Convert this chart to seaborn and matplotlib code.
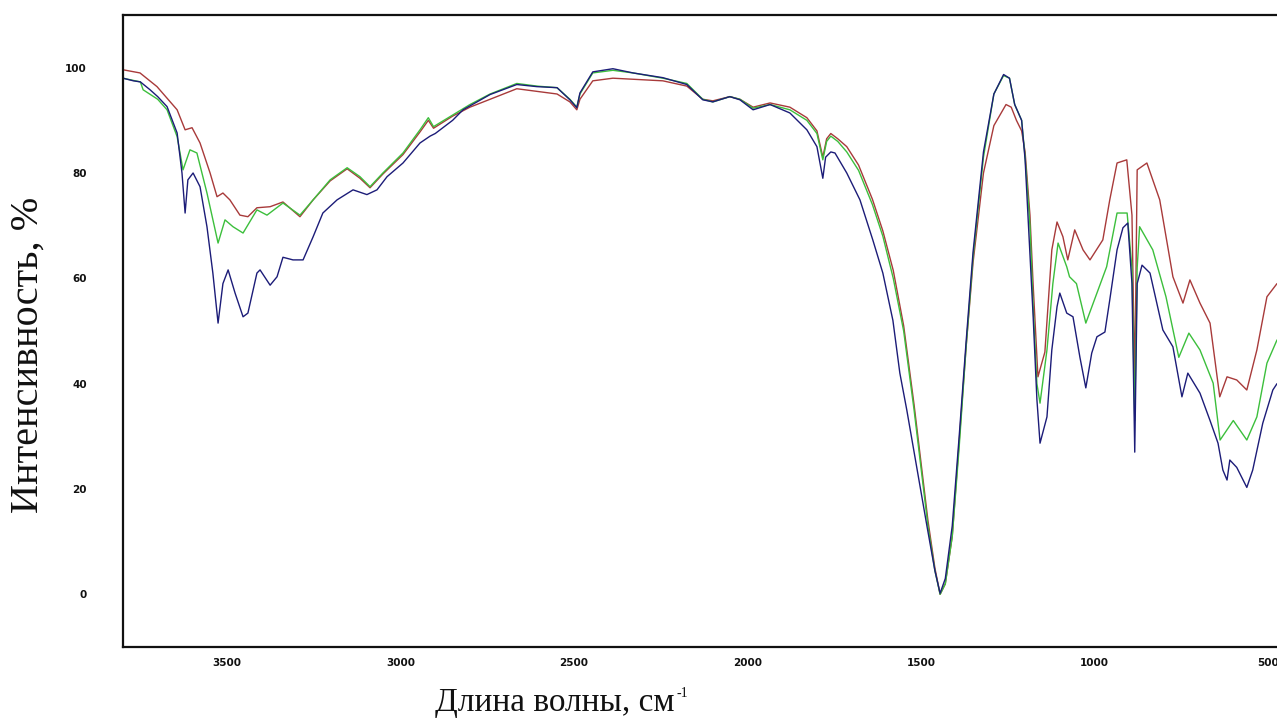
import matplotlib
matplotlib.use("Agg")
import matplotlib.pyplot as plt
from matplotlib.ticker import MultipleLocator, FixedLocator
import seaborn as sns

# ---------------- data ----------------
wn_blue = [3800, 3770, 3750, 3722, 3700, 3673, 3644, 3630, 3621, 3613, 3598, 3578, 3558, 3541,
           3526, 3512, 3497, 3477, 3454, 3440, 3414, 3405, 3376, 3356, 3339, 3310, 3281, 3252,
           3224, 3183, 3137, 3097, 3068, 3039, 2993, 2944, 2915, 2900, 2850, 2820, 2742, 2665,
           2607, 2549, 2512, 2492, 2483, 2446, 2388, 2330, 2244, 2175, 2129, 2100, 2051, 2022,
           1984, 1935, 1878, 1829, 1800, 1783, 1775, 1760, 1748, 1714, 1676, 1639, 1610, 1581,
           1561, 1541, 1512, 1483, 1460, 1445, 1430, 1410, 1390, 1370, 1350, 1320, 1290, 1262,
           1245, 1230, 1210, 1200, 1191, 1177, 1166, 1157, 1137, 1123, 1108, 1100, 1080, 1062,
           1042, 1025, 1008, 993, 970, 956, 935, 918, 904, 892, 884, 877, 863, 840, 803, 774,
           748, 731, 696, 667, 644, 630, 618, 610, 590, 561, 544, 515, 486, 474]
blue = [98.0, 97.5, 97.3, 95.8, 94.5, 92.6, 87.6, 80.0, 72.4, 78.7, 80.0, 77.4, 69.8, 61.0,
        51.5, 59.0, 61.6, 57.2, 52.7, 53.4, 61.0, 61.6, 58.7, 60.3, 64.0, 63.5, 63.5, 67.9,
        72.4, 74.9, 76.8, 75.9, 76.8, 79.3, 81.9, 85.7, 87.0, 87.5, 90.0, 92.0, 94.9, 96.8,
        96.4, 96.2, 93.9, 92.4, 95.2, 99.2, 99.8, 99.0, 98.1, 96.8, 93.9, 93.5, 94.5, 93.9,
        92.0, 93.0, 91.4, 88.2, 85.0, 79.0, 83.0, 84.0, 83.8, 80.0, 74.9, 67.3, 61.0, 52.0,
        42.0, 35.0, 24.0, 13.0, 4.5, 0.2, 3.0, 13.0, 30.0, 48.0, 65.0, 84.0, 95.0, 98.7,
        98.0, 93.0, 90.0, 82.5, 71.0, 53.0, 37.0, 28.7, 33.7, 46.4, 54.6, 57.2, 53.4, 52.7,
        45.0, 39.2, 45.8, 48.9, 49.8, 55.9, 65.4, 69.6, 70.5, 59.0, 27.0, 59.0, 62.5, 61.0,
        50.2, 47.0, 37.5, 42.0, 38.2, 33.0, 28.7, 23.6, 21.7, 25.5, 24.1, 20.3, 23.6, 32.5,
        38.8, 40.0]

wn_green = [3800, 3750, 3742, 3700, 3673, 3644, 3627, 3607, 3587, 3558, 3526, 3506, 3483, 3454,
            3414, 3385, 3339, 3290, 3252, 3203, 3154, 3117, 3088, 3051, 2993, 2944, 2920, 2905,
            2850, 2800, 2742, 2665, 2607, 2549, 2512, 2492, 2483, 2446, 2388, 2330, 2244, 2175,
            2129, 2100, 2051, 2022, 1984, 1935, 1878, 1829, 1800, 1783, 1772, 1760, 1740, 1714,
            1680, 1640, 1610, 1580, 1550, 1520, 1500, 1480, 1460, 1445, 1430, 1410, 1390, 1370,
            1350, 1320, 1290, 1262, 1245, 1230, 1210, 1200, 1186, 1177, 1166, 1157, 1137, 1120,
            1105, 1080, 1072, 1052, 1025, 993, 965, 935, 906, 892, 884, 877, 870, 832, 794, 757,
            728, 696, 658, 638, 600, 561, 532, 503, 474]
green = [98.0, 97.3, 95.8, 94.0, 92.0, 86.9, 80.6, 84.4, 83.8, 76.2, 66.7, 71.1, 69.8, 68.6,
         73.0, 72.0, 74.3, 72.0, 74.9, 78.7, 81.0, 79.3, 77.4, 80.0, 83.8, 88.2, 90.5, 88.8,
         91.0, 93.0, 95.0, 97.0, 96.5, 96.2, 94.0, 92.5, 95.0, 99.0, 99.5, 99.0, 98.0, 97.0,
         94.0, 93.5, 94.5, 94.0, 92.3, 93.0, 92.0, 90.0, 87.5, 82.5, 86.0, 87.0, 86.0, 84.0,
         80.5, 74.0, 68.0, 60.0, 50.0, 35.0, 24.0, 13.0, 4.5, 0.0, 2.0, 11.0, 28.0, 47.0,
         64.0, 83.0, 95.0, 98.5, 98.0, 93.0, 90.0, 83.0, 70.0, 55.0, 40.0, 36.3, 46.4, 59.0,
         66.7, 62.2, 60.3, 59.0, 51.5, 57.2, 62.2, 72.4, 72.4, 62.0, 33.0, 62.0, 69.8, 65.4,
         56.5, 45.0, 49.6, 46.4, 40.1, 29.3, 33.0, 29.3, 33.7, 43.9, 48.3]

wn_red = [3800, 3751, 3702, 3644, 3621, 3601, 3578, 3549, 3529, 3512, 3492, 3463, 3440, 3414,
          3376, 3339, 3290, 3252, 3203, 3154, 3117, 3088, 3051, 2993, 2944, 2920, 2905, 2850,
          2800, 2742, 2665, 2607, 2549, 2512, 2492, 2483, 2446, 2388, 2330, 2244, 2175, 2129,
          2100, 2051, 2022, 1984, 1935, 1878, 1829, 1800, 1783, 1772, 1760, 1740, 1714, 1680,
          1640, 1610, 1580, 1550, 1520, 1500, 1480, 1460, 1445, 1430, 1410, 1390, 1370, 1350,
          1320, 1290, 1255, 1240, 1225, 1210, 1200, 1186, 1177, 1163, 1143, 1123, 1108, 1091,
          1077, 1057, 1033, 1013, 976, 956, 935, 907, 892, 884, 877, 849, 812, 774, 745, 725,
          696, 667, 639, 618, 590, 561, 532, 503, 474]
red = [99.6, 99.0, 96.4, 92.0, 88.2, 88.6, 85.7, 80.0, 75.5, 76.2, 74.9, 72.0, 71.7, 73.4,
       73.6, 74.5, 71.7, 74.9, 78.5, 80.8, 79.0, 77.2, 79.8, 83.5, 87.8, 90.0, 88.5, 90.8,
       92.5, 94.0, 96.0, 95.5, 95.0, 93.5, 92.0, 94.0, 97.5, 98.0, 97.8, 97.5, 96.5, 94.0,
       93.7, 94.5, 94.0, 92.5, 93.3, 92.5, 90.5, 88.0, 83.0, 86.5, 87.5, 86.5, 85.0, 81.5,
       75.0, 69.0, 61.5, 51.0, 36.0, 25.0, 14.0, 5.0, 0.0, 2.0, 11.0, 29.0, 47.0, 63.0,
       80.0, 89.0, 93.0, 92.5, 90.0, 88.0, 84.0, 72.0, 59.0, 41.3, 46.0, 65.4, 70.7, 67.9,
       63.5, 69.2, 65.4, 63.5, 67.3, 74.9, 81.9, 82.5, 72.0, 40.0, 80.6, 81.9, 74.9, 60.3,
       55.3, 59.7, 55.3, 51.5, 37.5, 41.3, 40.7, 38.8, 46.4, 56.5, 59.0]

x_ticks = [3500, 3000, 2500, 2000, 1500, 1000, 500]
x_ticklabels = ["3500", "3000", "2500", "2000", "1500", "1000", "500"]
y_ticks = [0, 20, 40, 60, 80, 100]
y_ticklabels = ["0", "20", "40", "60", "80", "100"]

xlabel = "Длина волны, см"
xlabel_sup = "-1"
ylabel = "Интенсивность, %"

# ---------------- style ----------------
sns.set_style("white")
plt.rcParams["font.family"] = ["Liberation Serif", "DejaVu Sans"]

W, H = 1277, 720
fig = plt.figure(figsize=(W / 100, H / 100), dpi=100)
fig.patch.set_facecolor("white")
ax = fig.add_axes([123 / W, 1 - 647 / H, 1 - 123 / W, (647 - 15) / H])
ax.set_facecolor("white")

series = [(wn_red, red, "#a83a3a"), (wn_green, green, "#3cbf3c"), (wn_blue, blue, "#1c1c78")]
for xs, ys, col in series:
    sns.lineplot(x=xs, y=ys, ax=ax, color=col, linewidth=1.0, estimator=None,
                 sort=False, legend=False)

ax.set_xlim(3800, 474)
ax.set_ylim(-10, 110)

ax.xaxis.set_major_locator(FixedLocator(x_ticks))
ax.set_xticklabels(x_ticklabels)
ax.xaxis.set_minor_locator(MultipleLocator(100))
ax.yaxis.set_major_locator(FixedLocator(y_ticks))
ax.set_yticklabels(y_ticklabels)
ax.yaxis.set_minor_locator(FixedLocator([v for v in range(-5, 101, 5) if v % 20 != 0]))

for s in ["left", "top", "bottom"]:
    ax.spines[s].set_visible(True)
    ax.spines[s].set_color("#111111")
    ax.spines[s].set_linewidth(1.6)
ax.spines["right"].set_visible(False)

ax.tick_params(axis="both", which="major", direction="out", length=4, width=1.2,
               color="#111111", labelsize=7.5)
ax.tick_params(axis="both", which="minor", direction="out", length=3, width=1.0,
               color="#111111")
ax.tick_params(axis="y", which="major", pad=22)
ax.tick_params(axis="x", which="major", pad=4)
for lab in ax.get_xticklabels() + ax.get_yticklabels():
    lab.set_fontfamily("DejaVu Sans")
    lab.set_fontweight("bold")
    lab.set_color("#111111")

ax.set_xlabel(xlabel, fontsize=24, color="#111111")
ax.set_ylabel(ylabel, fontsize=29, color="#111111")
ax.xaxis.set_label_coords((555 - 123) / 1154, -(688 - 647) / 632)
ax.yaxis.set_label_coords((47 - 123) / 1154, 0.462)

fig.canvas.draw()
bb = ax.xaxis.label.get_window_extent()
fig.text((bb.x1 + 2) / W, (bb.y1 + 1) / H, xlabel_sup, fontsize=10, color="#111111",
         ha="left", va="top")

fig.savefig("out.png", dpi=100, facecolor="white")
